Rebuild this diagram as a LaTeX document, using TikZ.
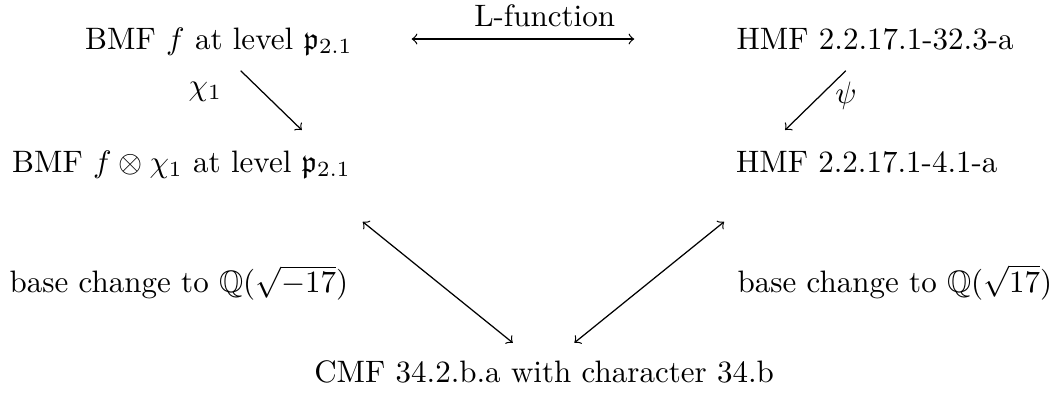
\documentclass[tikz,border=0pt]{standalone}
\usepackage{amsmath}
\usepackage{amsfonts}
\usepackage{amssymb}
\usepackage{tikz}
\usetikzlibrary{positioning}

\begin{document}
\begin{tikzpicture}[line width=0.4pt,
	form/.style={anchor=base,text height=1.9ex,text depth=.4ex}]
				\useasboundingbox (0,0) rectangle (11.96,-4.524);
				\node[form](bmf) at (2.482,-0.556) {BMF $f$ at level $\mathfrak{p}_{2.1}$};
				\node[form](hmf) at (9.921,-0.556) {HMF 2.2.17.1-32.3-a};
				\node[form](twist) at (2.058,-1.950) {BMF $f\otimes\chi_1$ at level $\mathfrak{p}_{2.1}$};
				\node[form](hmfb) at (9.826,-1.950) {HMF 2.2.17.1-4.1-a};
				\node[form](bcl) at (2.029,-3.319) {base change to $\mathbb{Q}(\sqrt{-17})$};
				\node[form](bcr) at (10.145,-3.319) {base change to $\mathbb{Q}(\sqrt{17})$};
				\node[form](cmf) at (6.168,-4.331) {CMF 34.2.b.a with character 34.b};
				\coordinate(chiA) at (2.729,-0.802);
				\coordinate(chiB) at (3.421,-1.474);
				\coordinate(psiA) at (9.588,-0.802);
				\coordinate(psiB) at (8.900,-1.474);
				\coordinate(blA) at (4.112,-2.514);
				\coordinate(blB) at (5.813,-3.886);
				\coordinate(brA) at (8.209,-2.514);
				\coordinate(brB) at (6.511,-3.886);
			 	\draw[<->,shorten <=15.5pt,shorten >=29.5pt](bmf) -- node[above=0.5pt](lfun){L-function} (hmf);
			 	\draw[->](chiA) -- node[pos=0.35,left=9.4pt](chi){$\chi_1$} (chiB);
			 	\draw[->](psiA) -- node[pos=0.43,right=1.5pt](psi){$\psi$} (psiB);
			 	\draw[<->](blA) -- (blB);
			 	\draw[<->](brA) -- (brB);
			\end{tikzpicture}
\end{document}
